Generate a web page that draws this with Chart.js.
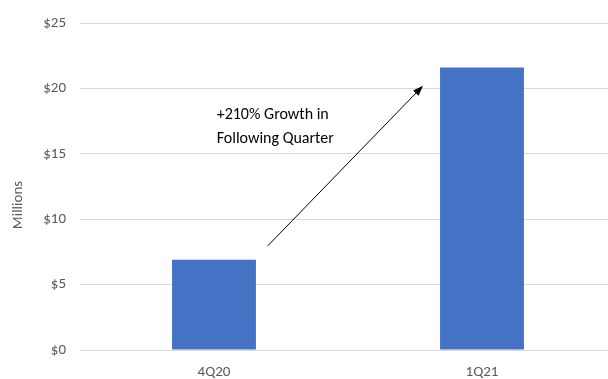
<!DOCTYPE html>
<html>
<head>
<meta charset="utf-8">
<script src="https://cdn.jsdelivr.net/npm/chart.js@4/dist/chart.umd.min.js"></script>
<style>
  html, body { margin: 0; padding: 0; background: #fff; overflow: hidden; }
  #wrap { width: 620px; height: 379px; }
</style>
</head>
<body>
<div id="wrap"><canvas id="chart"></canvas></div>
<script>
const quarters = ["4Q20", "1Q21"];
const revenue = [6.9, 21.6];
const yTicks = [0, 5, 10, 15, 20, 25];
const noteLines = ["+210% Growth in", "Following Quarter"];
// arrow endpoints in data units (category index, millions)
const arrowFrom = [0.2, 7.95];
const arrowTo = [0.78, 20.2];
const notePos = [0.01, 17.95];

const font = "Carlito, Lato, 'Open Sans', sans-serif";

const annotate = {
  id: "annotate",
  afterDatasetsDraw(chart) {
    const { ctx, scales: { x, y } } = chart;
    ctx.save();
    // arrow
    const x1 = x.getPixelForValue(arrowFrom[0]), y1 = y.getPixelForValue(arrowFrom[1]);
    const x2 = x.getPixelForValue(arrowTo[0]), y2 = y.getPixelForValue(arrowTo[1]);
    const ang = Math.atan2(y2 - y1, x2 - x1);
    const head = 11;
    ctx.strokeStyle = "#000";
    ctx.lineWidth = 1;
    ctx.beginPath();
    ctx.moveTo(x1, y1);
    ctx.lineTo(x2 - head * 0.8 * Math.cos(ang), y2 - head * 0.8 * Math.sin(ang));
    ctx.stroke();
    ctx.fillStyle = "#000";
    ctx.beginPath();
    ctx.moveTo(x2, y2);
    ctx.lineTo(x2 - head * Math.cos(ang - 0.35), y2 - head * Math.sin(ang - 0.35));
    ctx.lineTo(x2 - head * Math.cos(ang + 0.35), y2 - head * Math.sin(ang + 0.35));
    ctx.closePath();
    ctx.fill();
    // note text
    ctx.font = "16px " + font;
    ctx.fillStyle = "#000";
    ctx.textBaseline = "middle";
    ctx.textAlign = "left";
    const tx = x.getPixelForValue(notePos[0]);
    const ty = y.getPixelForValue(notePos[1]);
    noteLines.forEach((line, i) => ctx.fillText(line, tx, ty + i * 24));
    // y axis title
    ctx.font = "15px " + font;
    ctx.fillStyle = "#595959";
    ctx.textAlign = "center";
    ctx.translate(18, 205);
    ctx.rotate(-Math.PI / 2);
    ctx.fillText("Millions", 0, 0);
    ctx.restore();
  }
};

new Chart(document.getElementById("chart"), {
  type: "bar",
  data: {
    labels: quarters,
    datasets: [{
      data: revenue,
      backgroundColor: "#4472C4",
      barPercentage: 0.313,
      categoryPercentage: 1
    }]
  },
  options: {
    responsive: true,
    maintainAspectRatio: false,
    animation: false,
    layout: { padding: { top: 20, right: 4, left: 0, bottom: 0 } },
    plugins: {
      legend: { display: false },
      tooltip: { enabled: false }
    },
    scales: {
      x: {
        grid: { display: false, drawTicks: false },
        border: { display: false },
        ticks: { color: "#595959", font: { family: font, size: 15 }, padding: 13 },
        afterFit: s => { s.height = 29; }
      },
      y: {
        min: yTicks[0],
        max: yTicks[yTicks.length - 1],
        afterBuildTicks: s => { s.ticks = yTicks.map(v => ({ value: v })); },
        grid: { color: "#d9d9d9", drawTicks: false },
        border: { display: false },
        ticks: {
          color: "#595959",
          font: { family: font, size: 15 },
          padding: 14,
          callback: v => "$" + v
        },
        afterFit: s => { s.width = 80; }
      }
    }
  },
  plugins: [annotate]
});
</script>
</body>
</html>
